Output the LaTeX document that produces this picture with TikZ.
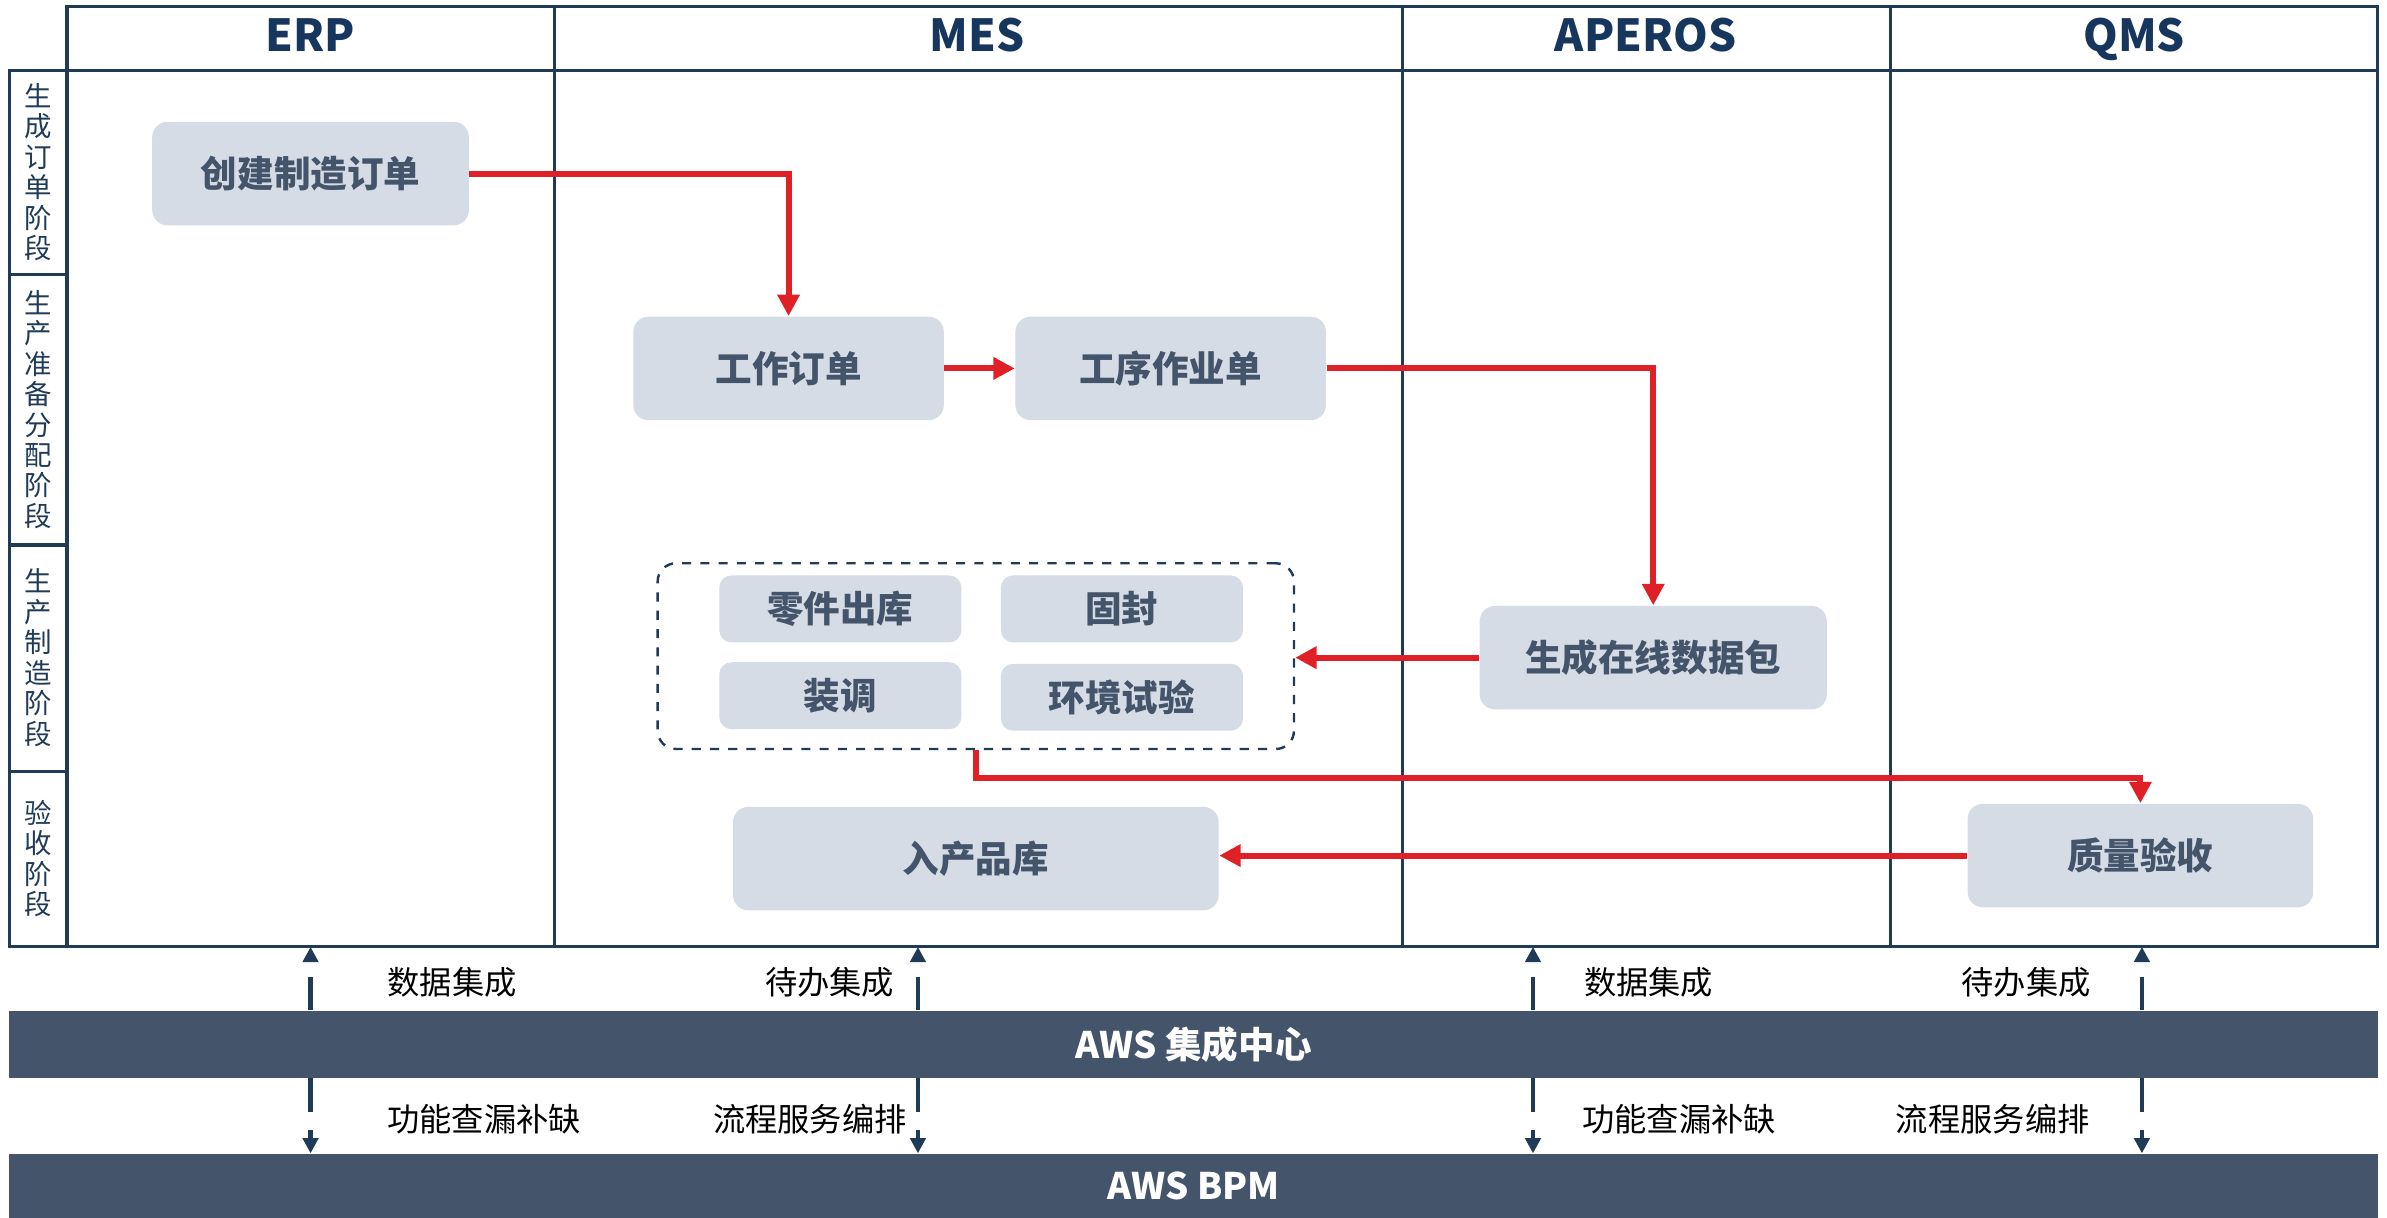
\documentclass[tikz,border=0pt]{standalone}
\usepackage{fontspec}
\setmainfont{Noto Sans CJK SC}
\usepackage{tikz}
\usetikzlibrary{arrows.meta,positioning}
\definecolor{lane}{HTML}{1F3B57}
\definecolor{boxfill}{HTML}{D6DCE5}
\definecolor{boxtext}{HTML}{44546A}
\definecolor{flow}{HTML}{E02027}
\definecolor{band}{HTML}{44546A}
\definecolor{headtext}{HTML}{17365D}

\begin{document}
\begin{tikzpicture}[x=0.5pt,y=-0.5pt,
	grid/.style={draw=lane,line width=1pt},
	head/.style={text=headtext,anchor=base,font=\fontsize{14.5}{16}\selectfont\bfseries},
	phase/.style={text=lane,align=center,inner sep=0pt,font=\fontsize{9}{10}\selectfont},
	task/.style={fill=boxfill,rounded corners=5pt,text=boxtext,minimum height=34pt,font=\fontsize{12}{14}\selectfont\bfseries},
	subtask/.style={task,minimum width=79.5pt,minimum height=22pt,rounded corners=4pt},
	group/.style={draw=lane,dashed,line width=0.8pt,rounded corners=6pt,minimum width=209pt,minimum height=61pt},
	flowline/.style={draw=flow,line width=2pt,-{Triangle[length=7pt,width=7pt]}},
	bandbox/.style={fill=band,text=white,minimum width=778pt,minimum height=22pt,font=\fontsize{12}{14}\selectfont\bfseries},
	sync/.style={draw=lane,line width=1.5pt,dash pattern=on 11pt off 6pt,-{Triangle[length=5pt,width=5pt]}},
	note/.style={text=black,font=\fontsize{10.6}{12}\selectfont}
]
	\useasboundingbox (0,0) rectangle (1568,800);

	% lanes
	\draw[grid] (44,4) rectangle (1562,46);
	\draw[grid] (6,46) rectangle (1562,622);
	\draw[grid] (44,46) -- (44,622);
	\foreach \x in {364,921,1242}
		\draw[grid] (\x,4) -- (\x,622);
	\foreach \y in {180,358,507}
		\draw[grid] (6,\y) -- (44,\y);

	\node[head] (hERP) at (204,34) {ERP};
	\node[head] (hMES) at (642,34) {MES};
	\node[head] (hAPEROS) at (1081,34) {APEROS};
	\node[head] (hQMS) at (1402,34) {QMS};

	\node[phase] (p1) at (25,113) {生\\成\\订\\单\\阶\\段};
	\node[phase] (p2) at (25,269) {生\\产\\准\\备\\分\\配\\阶\\段};
	\node[phase] (p3) at (25,432) {生\\产\\制\\造\\阶\\段};
	\node[phase] (p4) at (25,564) {验\\收\\阶\\段};

	% tasks
	\node[task,minimum width=104pt] (order) at (204,114) {创建制造订单};
	\node[task,minimum width=102pt] (work) at (518,242) {工作订单};
	\node[task,minimum width=102pt] (ops) at (769,242) {工序作业单};
	\node[task,minimum width=114pt] (pkg) at (1086,432) {生成在线数据包};
	\node[group] (grp) at (641,431) {};
	\node[subtask] (parts) at (552,400) {零件出库};
	\node[subtask] (seal) at (737,400) {固封};
	\node[subtask] (tune) at (552,457) {装调};
	\node[subtask] (env) at (737,458) {环境试验};
	\node[task,minimum width=159.5pt] (store) at (641,564) {入产品库};
	\node[task,minimum width=113.5pt] (qa) at (1406,562) {质量验收};

	\draw[flowline] (order.east) -| (work.north);
	\draw[flowline] (work.east) -- (ops.west);
	\draw[flowline] (ops.east) -| (pkg.north);
	\draw[flowline] (pkg.west) -- (pkg.west -| grp.east);
	\draw[flowline] (grp.south) -- ++(0,18) -| (qa.north);
	\draw[flowline] (qa.west) -- (qa.west -| store.east);

	% integration layers
	\node[bandbox] (hub) at (784,686) {AWS 集成中心};
	\node[bandbox,minimum height=21pt] (bpm) at (784,779) {AWS BPM};

	\coordinate (erp) at (204,622);
	\coordinate (mes) at (603,622);
	\coordinate (aperos) at (1007,622);
	\coordinate (qms) at (1407,622);
	\foreach \c in {erp,mes,aperos,qms} {
		\draw[sync] (hub.north -| \c) -- (\c);
		\draw[sync] (hub.south -| \c) -- (bpm.north -| \c);
	}

	\node[note] (n1) at (297,645) {数据集成};
	\node[note] (n2) at (545,645) {待办集成};
	\node[note] (n3) at (1083,645) {数据集成};
	\node[note] (n4) at (1331,645) {待办集成};
	\node[note] (n5) at (318,735) {功能查漏补缺};
	\node[note] (n6) at (532,735) {流程服务编排};
	\node[note] (n7) at (1103,735) {功能查漏补缺};
	\node[note] (n8) at (1309,735) {流程服务编排};
\end{tikzpicture}
\end{document}
